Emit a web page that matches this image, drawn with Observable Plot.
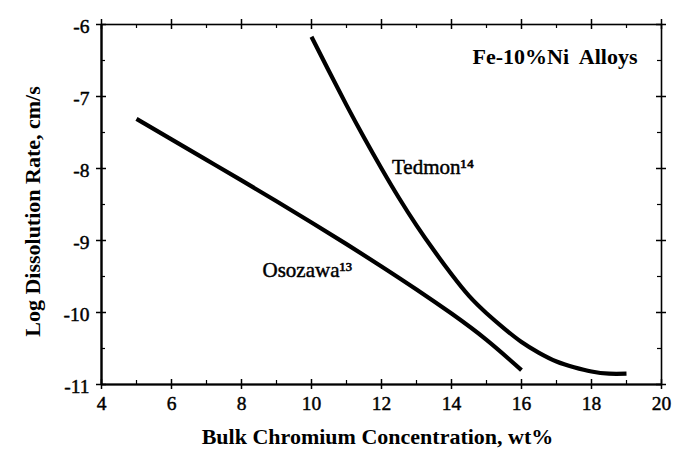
<!DOCTYPE html>
<html>
<head>
<meta charset="utf-8">
<script src="https://cdn.jsdelivr.net/npm/d3@7"></script>
<script src="https://cdn.jsdelivr.net/npm/@observablehq/plot@0.6"></script>
<style>
  html, body { margin: 0; padding: 0; background: #fff; }
  #chart svg { display: block; }
</style>
</head>
<body>
<div id="chart"></div>
<script>
// Osozawa (ref. 13)
const osozawaX = [5, 6, 7, 8, 9, 10, 11, 12, 13, 14, 15, 16];
const osozawaY = [-7.31, -7.595, -7.88, -8.165, -8.455, -8.75, -9.05, -9.36, -9.68, -10.015, -10.38, -10.80];
// Tedmon (ref. 14)
const tedmonX = [10, 10.5, 11, 11.5, 12, 12.5, 13, 13.5, 14, 14.5, 15, 15.5, 16, 16.5, 17, 17.5, 18, 18.5, 19];
const tedmonY = [-6.17, -6.65, -7.12, -7.57, -8.0, -8.41, -8.79, -9.14, -9.47, -9.77, -10.01, -10.22, -10.41, -10.56, -10.68, -10.76, -10.82, -10.85, -10.85];
// Axis ticks
const xTicks = [4, 6, 8, 10, 12, 14, 16, 18, 20];
const xMinor = [5, 7, 9, 11, 13, 15, 17, 19];
const yTicks = [-6, -7, -8, -9, -10, -11];
const yMinor = [-6.5, -7.5, -8.5, -9.5, -10.5];

const osozawa = osozawaX.map((x, i) => ({x, y: osozawaY[i]}));
const tedmon = tedmonX.map((x, i) => ({x, y: tedmonY[i]}));

const W = 692, H = 455;
const mL = 101, mR = 31, mT = 24, mB = 71;
const pw = W - mL - mR, ph = H - mT - mB;
const serif = "'Liberation Serif', 'Times New Roman', serif";
const fmt = d => (d < 0 ? "-" + Math.abs(d) : String(d));
const heavy = {fill: "#000", stroke: "#000", strokeWidth: 0.45, fontFamily: serif};

const chart = Plot.plot({
  width: W, height: H,
  marginLeft: mL, marginRight: mR, marginTop: mT, marginBottom: mB,
  style: {fontFamily: serif, background: "#fff", color: "#000"},
  x: {domain: [4, 20], axis: null},
  y: {domain: [-11, -6], axis: null},
  marks: [
    Plot.frame({stroke: "#000", strokeWidth: 1.6}),
    // tick labels
    Plot.text(xTicks, {x: d => d, frameAnchor: "bottom", lineAnchor: "top", dy: 12, text: fmt, fontSize: 19.5, ...heavy}),
    Plot.text(yTicks, {y: d => d, frameAnchor: "left", textAnchor: "end", lineAnchor: "middle", dx: -12, dy: 2, text: fmt, fontSize: 19.5, ...heavy}),
    // major ticks crossing bottom and top
    Plot.tickX(xTicks, {x: d => d, insetTop: ph - 10, dy: 5, stroke: "#000", strokeWidth: 1.5}),
    Plot.tickX(xTicks, {x: d => d, insetBottom: ph - 10, dy: -5, stroke: "#000", strokeWidth: 1.5}),
    Plot.tickX(xMinor, {x: d => d, insetTop: ph - 4, stroke: "#000", strokeWidth: 1.2}),
    Plot.tickX(xMinor, {x: d => d, insetBottom: ph - 4, stroke: "#000", strokeWidth: 1.2}),
    // major ticks crossing left and right
    Plot.tickY(yTicks, {y: d => d, insetRight: pw - 10, dx: -5, stroke: "#000", strokeWidth: 1.5}),
    Plot.tickY(yTicks, {y: d => d, insetLeft: pw - 10, dx: 5, stroke: "#000", strokeWidth: 1.5}),
    Plot.tickY(yMinor, {y: d => d, insetRight: pw - 4, stroke: "#000", strokeWidth: 1.2}),
    Plot.tickY(yMinor, {y: d => d, insetLeft: pw - 4, stroke: "#000", strokeWidth: 1.2}),
    // thicker left and bottom axis lines
    Plot.ruleX([4], {stroke: "#000", strokeWidth: 2.2}),
    Plot.ruleY([-11], {stroke: "#000", strokeWidth: 2.2}),
    // curves
    Plot.line(osozawa, {x: "x", y: "y", curve: "natural", stroke: "#000", strokeWidth: 4.2, strokeLinecap: "butt"}),
    Plot.line(tedmon, {x: "x", y: "y", curve: "natural", stroke: "#000", strokeWidth: 4.2, strokeLinecap: "butt"}),
    // axis titles
    Plot.text(["Bulk Chromium Concentration, wt%"], {frameAnchor: "bottom", lineAnchor: "middle", dy: 52, dx: -4, fontSize: 22, fontWeight: "bold", fontFamily: serif, fill: "#000"}),
    Plot.text(["Log Dissolution Rate, cm/s"], {frameAnchor: "left", textAnchor: "middle", lineAnchor: "middle", dx: -69, dy: 7, rotate: -90, fontSize: 22, fontWeight: "bold", fontFamily: serif, fill: "#000"}),
    // annotations
    Plot.text(["Fe-10%Ni  Alloys"], {frameAnchor: "top-right", textAnchor: "end", lineAnchor: "middle", dx: -24, dy: 32, fontSize: 22, fontWeight: "bold", fontFamily: serif, fill: "#000"}),
    Plot.text([{x: 12.3, y: -7.98}], {x: "x", y: "y", text: () => "Tedmon¹⁴", textAnchor: "start", fontSize: 21, ...heavy}),
    Plot.text([{x: 8.6, y: -9.42}], {x: "x", y: "y", text: () => "Osozawa¹³", textAnchor: "start", fontSize: 21, ...heavy})
  ]
});
document.getElementById("chart").appendChild(chart);
</script>
</body>
</html>
